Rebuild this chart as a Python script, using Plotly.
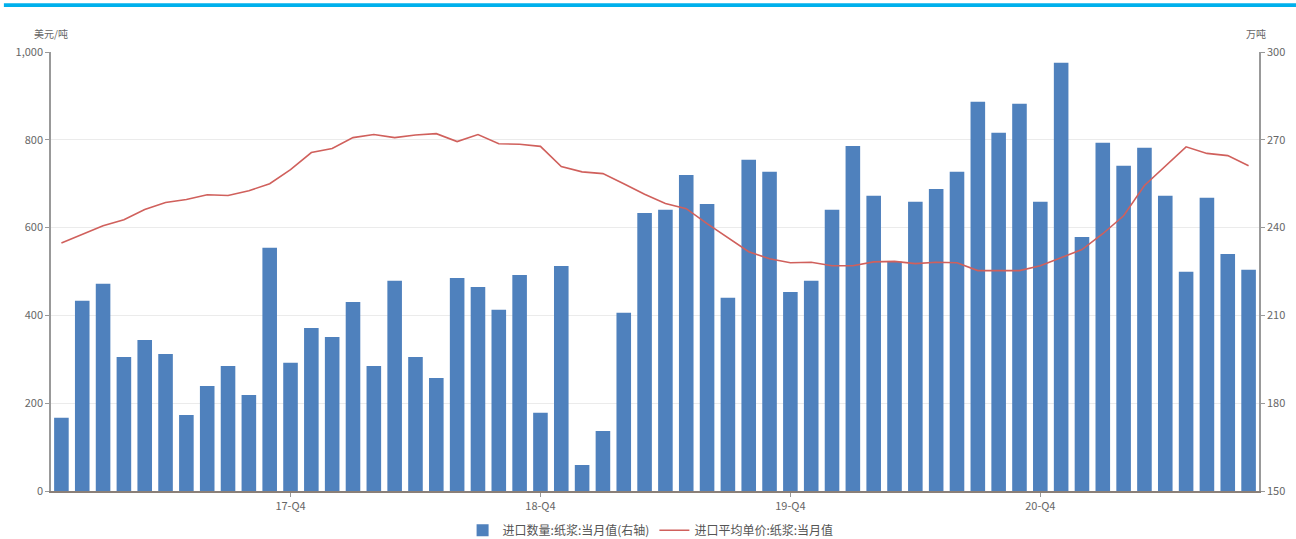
import plotly.graph_objects as go

# 月份 2017-01 ~ 2021-10
months = [f"{y}-{m:02d}" for y in range(2017, 2022) for m in range(1, 13)][:58]

# 进口数量:纸浆:当月值 (万吨, 右轴)
import_volume = [
    175.0, 215.0, 220.8, 195.8, 201.6, 196.8, 176.0, 185.9, 192.7, 182.8,
    233.1, 193.8, 205.7, 202.6, 214.6, 192.7, 221.8, 195.8, 188.6, 222.8,
    219.7, 211.9, 223.8, 176.7, 226.9, 158.9, 170.5, 210.9, 245.0, 246.1,
    258.0, 248.1, 216.0, 263.2, 259.1, 218.0, 221.8, 246.1, 267.9, 250.9,
    228.3, 248.8, 253.2, 259.1, 283.0, 272.4, 282.3, 248.8, 296.3, 236.8,
    269.0, 261.1, 267.3, 250.9, 224.9, 250.2, 231.0, 225.6,
]

# 进口平均单价:纸浆:当月值 (美元/吨, 左轴)
import_price = [
    565, 584, 604, 618, 641, 657, 664, 675, 673, 684,
    700, 732, 771, 780, 805, 812, 805, 811, 814, 796,
    812, 791, 790, 785, 739, 727, 723, 700, 676, 655,
    643, 609, 577, 545, 529, 520, 521, 513, 513, 522,
    523, 518, 521, 520, 502, 502, 502, 513, 531, 550,
    586, 627, 696, 741, 784, 769, 764, 741,
]

tick_months = ["2017-12", "2018-12", "2019-12", "2020-12"]
tick_labels = ["17-Q4", "18-Q4", "19-Q4", "20-Q4"]

FONT = "Noto Sans CJK SC, Noto Sans, sans-serif"
AXIS_GRAY = "#999999"
TEXT_GRAY = "#666666"

fig = go.Figure()

fig.add_trace(
    go.Bar(
        x=months,
        y=import_volume,
        name="进口数量:纸浆:当月值(右轴)",
        marker={"color": "#4F81BD", "line": {"width": 0}},
        yaxis="y",
    )
)

fig.add_trace(
    go.Scatter(
        x=months,
        y=import_price,
        mode="lines",
        name="进口平均单价:纸浆:当月值",
        line={"color": "#D0605C", "width": 1.6},
        yaxis="y2",
    )
)

fig.update_layout(
    width=1296,
    height=539,
    margin={"l": 51, "r": 37, "t": 52, "b": 48},
    paper_bgcolor="white",
    plot_bgcolor="white",
    bargap=0.3,
    font={"family": FONT, "size": 11, "color": TEXT_GRAY},
    showlegend=True,
    legend={
        "orientation": "h",
        "xref": "container",
        "yref": "container",
        "x": 0.502,
        "xanchor": "center",
        "y": 0.043,
        "yanchor": "top",
        "font": {"size": 12, "color": "#555555"},
        "itemwidth": 30,
    },
    xaxis={
        "type": "category",
        "range": [-0.5, 57.5],
        "tickmode": "array",
        "tickvals": tick_months,
        "ticktext": tick_labels,
        "ticks": "outside",
        "ticklen": 4,
        "tickcolor": AXIS_GRAY,
        "showline": True,
        "linecolor": "#8a7f78",
        "linewidth": 1.5,
        "showgrid": False,
        "zeroline": False,
        "automargin": False,
    },
    yaxis={
        "side": "right",
        "range": [150, 300],
        "dtick": 30,
        "tick0": 150,
        "ticks": "outside",
        "ticklen": 4,
        "tickcolor": AXIS_GRAY,
        "showline": True,
        "linecolor": AXIS_GRAY,
        "linewidth": 1.5,
        "showgrid": True,
        "gridcolor": "#ebebeb",
        "zeroline": False,
        "automargin": False,
    },
    yaxis2={
        "side": "left",
        "overlaying": "y",
        "range": [0, 1000],
        "dtick": 200,
        "tickformat": ",",
        "ticks": "outside",
        "ticklen": 4,
        "tickcolor": AXIS_GRAY,
        "showline": True,
        "linecolor": AXIS_GRAY,
        "linewidth": 1.5,
        "showgrid": False,
        "zeroline": False,
        "automargin": False,
    },
    annotations=[
        {
            "text": "美元/吨",
            "xref": "paper",
            "yref": "paper",
            "x": 0,
            "y": 1.043,
            "xanchor": "center",
            "yanchor": "middle",
            "showarrow": False,
            "font": {"size": 10, "color": TEXT_GRAY},
        },
        {
            "text": "万吨",
            "xref": "paper",
            "yref": "paper",
            "x": 0.9975,
            "y": 1.043,
            "xanchor": "center",
            "yanchor": "middle",
            "showarrow": False,
            "font": {"size": 10, "color": TEXT_GRAY},
        },
    ],
    shapes=[
        {
            "type": "rect",
            "xref": "paper",
            "yref": "paper",
            "x0": -0.039,
            "x1": 1.031,
            "y0": 1.1025,
            "y1": 1.111,
            "fillcolor": "#00B0EC",
            "line": {"width": 0},
            "layer": "above",
        }
    ],
)

fig.write_html(
    "out.html",
    config={"displayModeBar": False},
    post_script="document.body.style.margin='0';",
)
